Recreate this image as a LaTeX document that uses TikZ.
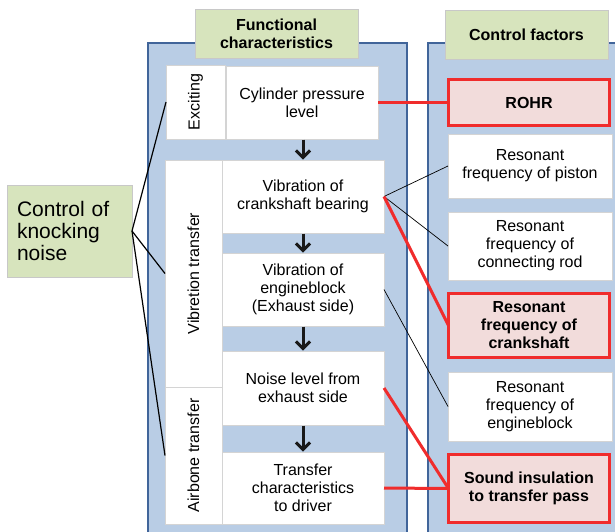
\documentclass[tikz,border=0pt]{standalone}
\usepackage{fontspec}
\setmainfont{Liberation Sans}
\usetikzlibrary{arrows.meta}
\definecolor{panelfill}{HTML}{B9CDE5}
\definecolor{paneldraw}{HTML}{41659A}
\definecolor{hdrfill}{HTML}{D7E4BD}
\definecolor{hdrdraw}{HTML}{C8C8C8}
\definecolor{redfill}{HTML}{F2DCDB}
\definecolor{reddraw}{HTML}{F02C2C}
\definecolor{boxdraw}{HTML}{D4D4D4}
\begin{document}
\begin{tikzpicture}[x=1pt,y=-1pt,
  base/.style={inner sep=0pt, outer sep=0pt, anchor=north west, align=center,
    font=\fontsize{16}{18}\selectfont},
  wbox/.style={base, fill=white, draw=boxdraw, line width=0.8pt},
  rbox/.style={base, fill=redfill, draw=reddraw, line width=3pt,
    font=\fontsize{16}{18}\selectfont\bfseries},
  hbox/.style={base, fill=hdrfill, draw=hdrdraw, line width=1pt,
    font=\fontsize{16}{18}\selectfont\bfseries},
  panel/.style={fill=panelfill, draw=paneldraw, line width=2.5pt},
  vlabel/.style={rotate=90, inner sep=0pt, font=\fontsize{16}{18}\selectfont},
  redline/.style={draw=reddraw, line width=3pt},
  thinline/.style={draw=black, line width=0.7pt},
  kline/.style={draw=black, line width=1.2pt},
  flowarrow/.style={draw=black!90, line width=3pt, -{Straight Barb[length=7pt,width=14pt]},
    shorten <=0.5pt, shorten >=0.5pt}
]
\useasboundingbox (0,0) rectangle (615,531);
\clip (0,0) rectangle (615,531);

% panels
\path[panel] (148,43) rectangle (407,560);
\path[panel] (428,43) rectangle (650,560);

% headers
\node[hbox, minimum width=163pt, minimum height=49pt] (fh) at (195,9) {Functional\\characteristics};
\node[hbox, minimum width=163pt, minimum height=49pt] (cfh) at (445,10) {Control factors};

% left-side category boxes
\node[wbox, minimum width=59pt, minimum height=74pt] (exc) at (166,65) {};
\node[vlabel] (exclabel) at (exc.center) {Exciting};
\node[wbox, minimum width=57pt, minimum height=227pt] (vt) at (165,160) {};
\node[vlabel] (vtlabel) at (vt.center) {Vibretion transfer};
\node[wbox, minimum width=57pt, minimum height=137pt] (abt) at (165,387) {};
\node[vlabel] (abtlabel) at (abt.center) {Airbone transfer};

% functional characteristics
\node[wbox, minimum width=152pt, minimum height=73pt] (cyl) at (226,66) {Cylinder pressure\\level};
\node[wbox, minimum width=162pt, minimum height=73pt] (cb) at (222,160) {Vibration of\\crankshaft bearing};
\node[wbox, minimum width=162pt, minimum height=73pt] (eb) at (222,253) {Vibration of\\engineblock\\(Exhaust side)};
\node[wbox, minimum width=162pt, minimum height=74pt] (nl) at (222,351) {Noise level from\\exhaust side};
\node[wbox, minimum width=162pt, minimum height=72pt] (tc) at (222,452) {Transfer\\characteristics\\to driver};

% control factors
\node[rbox, minimum width=161pt, minimum height=46pt] (rohr) at (448.5,79.5) {ROHR};
\node[wbox, minimum width=164pt, minimum height=64pt] (pist) at (448,134) {Resonant\\frequency of piston};
\node[wbox, minimum width=164pt, minimum height=68pt] (rod) at (448,212) {Resonant\\frequency of\\connecting rod};
\node[rbox, minimum width=161pt, minimum height=64pt] (crank) at (448.5,293.5) {Resonant\\frequency of\\crankshaft};
\node[wbox, minimum width=164pt, minimum height=69pt] (ebr) at (448,372) {Resonant\\frequency of\\engineblock};
\node[rbox, minimum width=161pt, minimum height=68pt] (snd) at (448.5,454.5) {Sound insulation\\to transfer pass};

% root
\node[base, fill=hdrfill, draw=hdrdraw, line width=1pt, align=left,
  minimum width=125pt, minimum height=92pt, text width=105pt,
  font=\fontsize{21}{22.3}\selectfont] (knock) at (7,185) {Control of\\knocking\\noise};

% root connectors
\draw[kline] (knock.east) -- (exc.west);
\draw[kline] (knock.east) -- (vt.west);
\draw[kline] (knock.east) -- (abt.west);

% flow arrows
\draw[flowarrow] (cb.north |- cyl.south) -- (cb.north);
\draw[flowarrow] (cb.south) -- (eb.north);
\draw[flowarrow] (eb.south) -- (nl.north);
\draw[flowarrow] (nl.south) -- (tc.north);

% control links
\draw[thinline] (cb.east) -- (pist.west);
\draw[thinline] (cb.east) -- (rod.west);
\draw[thinline] (eb.east) -- (ebr.west);
\draw[redline] (cyl.east) -- (rohr.west);
\draw[redline] (cb.east) -- (crank.west);
\draw[redline] (nl.east) -- (snd.west);
\draw[redline] (tc.east) -- (snd.west);
\end{tikzpicture}
\end{document}
